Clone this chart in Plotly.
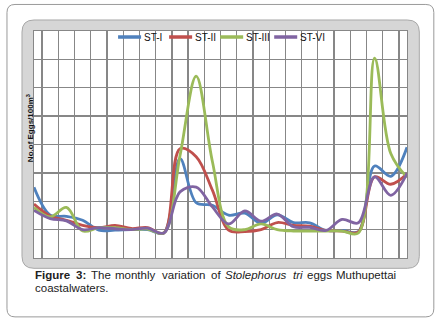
import plotly.graph_objects as go

# ---- data (grid units; one gridline = 1) ----
samples = [str(i) for i in range(1, 25)]
series_names = ["ST-I", "ST-II", "ST-III", "ST-VI"]
st_i = [2.49, 1.51, 1.47, 1.33, 0.98, 0.98, 1.0, 1.0, 0.88, 3.5, 1.95, 1.86,
        1.51, 1.58, 1.22, 1.52, 1.25, 1.24, 0.97, 0.97, 0.93, 3.24, 2.88, 3.9]
st_ii = [1.9, 1.48, 1.33, 1.15, 1.07, 1.15, 1.04, 1.07, 0.88, 3.85, 3.57, 2.39,
         0.98, 0.93, 1.0, 1.25, 1.15, 1.12, 0.97, 0.95, 0.92, 2.86, 2.6, 2.97]
st_iii = [1.78, 1.45, 1.78, 0.95, 1.07, 1.07, 1.0, 1.02, 0.88, 3.6, 6.41, 3.4,
          1.1, 1.0, 1.2, 1.0, 0.95, 0.95, 0.95, 0.95, 0.88, 7.04, 3.68, 2.84]
st_vi = [1.68, 1.39, 1.31, 1.0, 1.07, 1.03, 1.0, 1.05, 0.88, 2.33, 2.5, 1.8,
         1.2, 1.66, 1.3, 1.55, 1.1, 1.08, 0.97, 1.36, 1.24, 2.86, 2.21, 2.98]
series_values = [st_i, st_ii, st_iii, st_vi]
colors = ["#4F81BD", "#C0504D", "#9BBB59", "#8064A2"]
y_max = 8

caption_words = ["<b>Figure</b>", "<b>3:</b>", "The", "monthly", "variation", "of",
                 "<i>Stolephorus</i>", "<i>tri</i>", "eggs", "Muthupettai"]
caption_line2 = "coastalwaters."

W, H = 440, 325
L, R, T, B = 34, 406.7, 31, 257.7


def px(x):
    return (x - L) / (R - L)


def py(y):
    return (B - y) / (B - T)


def rounded_path(x0, y0, x1, y1, r):
    return ("M {a},{b} L {c},{b} Q {d},{b} {d},{e} L {d},{f} Q {d},{g} {c},{g} "
            "L {a},{g} Q {h},{g} {h},{f} L {h},{e} Q {h},{b} {a},{b} Z").format(
        a=px(x0 + r), b=py(y0), c=px(x1 - r), d=px(x1), e=py(y0 + r),
        f=py(y1 - r), g=py(y1), h=px(x0))


fig = go.Figure()
for name, vals, col in zip(series_names, series_values, colors):
    fig.add_trace(go.Scatter(x=samples, y=vals, name=name, mode="lines",
                             line=dict(color=col, width=2.8, shape="spline", smoothing=1),
                             showlegend=False))

shapes = [
    dict(type="path", xref="paper", yref="paper", path=rounded_path(7, 4.5, 433.5, 316.5, 8),
         fillcolor="white", line=dict(color="#9a9a9a", width=1), layer="below"),
    dict(type="path", xref="paper", yref="paper", path=rounded_path(22, 20, 419, 268, 12),
         fillcolor="#d6d6d6", line=dict(color="#a8a8a8", width=1), layer="below"),
    dict(type="rect", xref="paper", yref="paper", x0=0, x1=1, y0=0, y1=1,
         fillcolor="white", line=dict(width=0), layer="below"),
]

# custom legend
leg_y = 37
leg_x = [118, 169, 220, 274]
annotations = []
for name, col, lx in zip(series_names, colors, leg_x):
    shapes.append(dict(type="line", xref="paper", yref="paper", x0=px(lx), x1=px(lx + 23),
                       y0=py(leg_y), y1=py(leg_y), line=dict(color=col, width=3.5)))
    annotations.append(dict(xref="paper", yref="paper", x=px(lx + 24), y=py(leg_y),
                            xanchor="left", yanchor="middle", showarrow=False, text=name,
                            font=dict(family="Liberation Sans Narrow, Arial Narrow, Liberation Sans",
                                      size=10, color="#111")))

annotations.append(dict(xref="paper", yref="paper", x=px(30), y=py(128), textangle=-90,
                        xanchor="center", yanchor="middle", showarrow=False,
                        text="<b>No.of Eggs/100m<sup>3</sup></b>",
                        font=dict(family="Liberation Sans Narrow, Arial Narrow, Liberation Sans",
                                  size=8, color="#111")))

cap_font = dict(family="Liberation Sans, Arial", size=11.5, color="#222")
word_x = [33, 73.7, 88.5, 113.3, 159.4, 208.8, 223.0, 291.0, 305.2, 398]
for k, (wtxt, wx) in enumerate(zip(caption_words, word_x)):
    last = k == len(caption_words) - 1
    annotations.append(dict(xref="paper", yref="paper", x=px(wx), y=py(275),
                            xanchor="right" if last else "left",
                            yanchor="middle", showarrow=False, font=cap_font, text=wtxt))
annotations.append(dict(xref="paper", yref="paper", x=px(33), y=py(287.5), xanchor="left",
                        yanchor="middle", showarrow=False, font=cap_font,
                        text=caption_line2))

fig.update_layout(
    width=W, height=H,
    margin=dict(l=L, r=W - R, t=T, b=H - B, pad=0),
    paper_bgcolor="white", plot_bgcolor="white",
    shapes=shapes, annotations=annotations,
    xaxis=dict(type="category", tickson="boundaries", showticklabels=False, ticks="",
               showgrid=True, gridcolor="#878787", gridwidth=1.3,
               showline=True, linecolor="#878787", linewidth=1.3, mirror=True,
               zeroline=False, fixedrange=True),
    yaxis=dict(range=[0, y_max], dtick=1, showticklabels=False, ticks="",
               showgrid=True, gridcolor="#878787", gridwidth=1.3,
               showline=True, linecolor="#878787", linewidth=1.3, mirror=True,
               zeroline=False, fixedrange=True),
)
fig.write_html("out.html", config={"displayModeBar": False, "staticPlot": True},
               post_script="document.body.style.margin='0';document.body.style.padding='0';")
